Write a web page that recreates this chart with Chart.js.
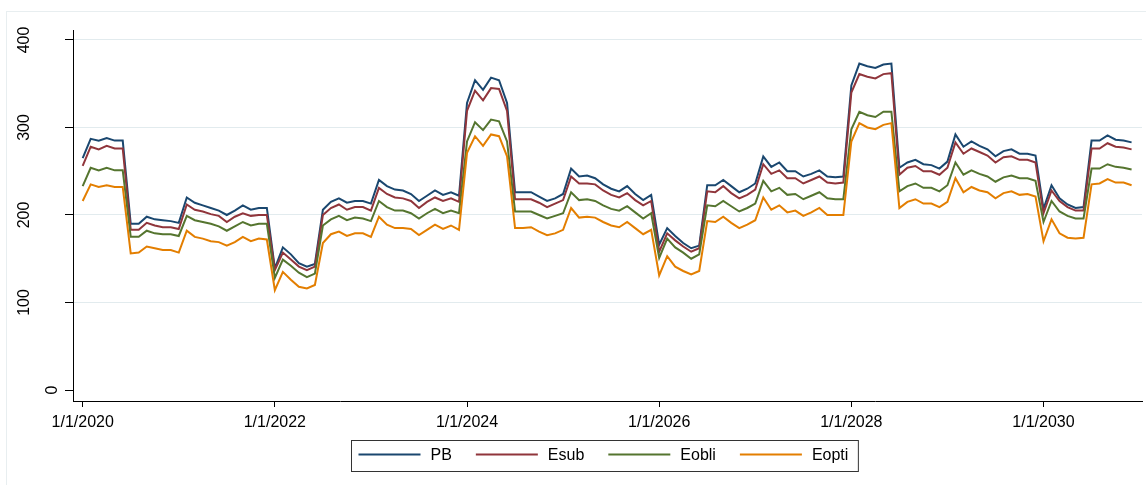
<!DOCTYPE html>
<html lang="en">

<head>
    <meta charset="UTF-8">
    <title>PB / Esub / Eobli / Eopti</title>
    <script src="https://cdn.jsdelivr.net/npm/chart.js"></script>

    <style>
        body {
            margin: 0;
            background: #fff;
        }
    </style>
</head>

<body>
    <canvas id="myChart" width="1146" height="485"></canvas>
    <script>
        // monthly values, Jan 2020 .. Dec 2030
        const pb = [
            265, 287, 285, 288, 285, 285, 190, 190, 198, 195, 194, 193,
            191, 220, 214, 211, 208, 205, 200, 205, 211, 206, 208, 208,
            139, 163, 155, 145, 141, 144, 206, 215, 219, 214, 216, 216,
            213, 240, 233, 229, 228, 224, 216, 222, 228, 223, 226, 222,
            328, 354, 343, 357, 354, 328, 226, 226, 226, 221, 216, 219,
            224, 253, 244, 245, 242, 235, 230, 227, 233, 224, 217, 223,
            166, 185, 176, 168, 162, 165, 234, 234, 240, 233, 226, 230,
            236, 267, 255, 260, 250, 250, 244, 247, 251, 244, 243, 244,
            348, 373, 370, 368, 372, 373, 254, 260, 263, 258, 257, 253,
            261, 292, 278, 284, 279, 275, 267, 273, 275, 270, 270, 268,
            207, 234, 219, 212, 208, 209, 285, 285, 291, 286, 285, 283
        ];
        const esub = [
            256, 278, 275, 279, 276, 276, 183, 183, 191, 188, 186, 186,
            184, 212, 206, 204, 201, 199, 192, 198, 202, 199, 200, 200,
            137, 157, 149, 141, 137, 141, 200, 208, 212, 206, 209, 209,
            205, 231, 224, 220, 219, 216, 208, 215, 220, 216, 219, 215,
            319, 342, 331, 345, 344, 319, 218, 218, 218, 214, 209, 213,
            217, 244, 236, 236, 235, 228, 223, 220, 225, 217, 211, 216,
            158, 179, 171, 164, 158, 162, 227, 226, 233, 225, 219, 223,
            229, 258, 247, 251, 242, 242, 236, 240, 244, 237, 236, 237,
            340, 361, 358, 356, 361, 362, 246, 254, 256, 250, 250, 246,
            254, 283, 270, 276, 272, 268, 260, 266, 267, 263, 263, 260,
            202, 228, 216, 209, 205, 205, 276, 276, 282, 278, 277, 275
        ];
        const eobli = [
            233, 254, 251, 254, 251, 251, 175, 175, 182, 179, 178, 178,
            176, 199, 194, 192, 190, 187, 182, 187, 192, 188, 190, 190,
            128, 149, 142, 134, 129, 133, 188, 195, 199, 194, 197, 196,
            193, 216, 209, 205, 205, 202, 196, 202, 207, 202, 205, 202,
            284, 306, 297, 309, 307, 284, 204, 204, 204, 200, 196, 199,
            202, 226, 217, 218, 216, 211, 207, 205, 210, 203, 196, 202,
            151, 173, 163, 157, 150, 155, 211, 210, 216, 210, 204, 208,
            213, 239, 227, 231, 223, 224, 218, 222, 226, 219, 218, 218,
            298, 318, 314, 312, 318, 318, 227, 233, 236, 231, 231, 227,
            234, 260, 246, 251, 247, 244, 238, 243, 245, 242, 242, 239,
            192, 216, 204, 199, 196, 196, 253, 253, 258, 255, 254, 252
        ];
        const eopti = [
            216, 235, 232, 234, 232, 232, 156, 157, 164, 162, 160, 160,
            157, 182, 175, 173, 170, 169, 165, 169, 175, 170, 173, 172,
            114, 135, 126, 118, 116, 120, 168, 178, 181, 176, 179, 179,
            175, 198, 189, 185, 185, 184, 177, 183, 189, 184, 188, 183,
            271, 290, 279, 292, 290, 267, 185, 185, 186, 181, 177, 179,
            183, 208, 197, 198, 197, 192, 188, 186, 192, 185, 178, 183,
            131, 153, 141, 136, 132, 136, 193, 192, 198, 191, 185, 189,
            194, 220, 206, 211, 203, 205, 199, 203, 208, 200, 200, 200,
            284, 305, 300, 298, 303, 305, 208, 215, 218, 213, 213, 209,
            215, 242, 226, 232, 228, 226, 219, 225, 227, 223, 224, 221,
            170, 195, 179, 174, 173, 174, 235, 236, 241, 237, 237, 234
        ];

        const seriesNames = ['PB', 'Esub', 'Eobli', 'Eopti'];
        const seriesColors = ['#1a476f', '#90353b', '#55752f', '#e37e00'];

        const xTickMonths = [0, 24, 48, 72, 96, 120];
        const xTickLabels = ['1/1/2020', '1/1/2022', '1/1/2024', '1/1/2026', '1/1/2028', '1/1/2030'];
        const yTicks = [0, 100, 200, 300, 400];

        const FONT = "'Liberation Sans', Arial, sans-serif";
        Chart.defaults.font.family = FONT;
        Chart.defaults.font.size = 16;
        Chart.defaults.color = '#000';

        const toPoints = arr => arr.map((v, i) => ({ x: i, y: v }));

        // rotated y labels, the legend box and the faint outer frame
        const extras = {
            id: 'extras',
            beforeDraw(chart) {
                const c = chart.ctx;
                c.save();
                c.strokeStyle = '#e8eef0';
                c.lineWidth = 1;
                c.strokeRect(6.5, 11.5, 1400, 700);
                c.restore();
            },
            afterDraw(chart) {
                const c = chart.ctx;
                const area = chart.chartArea;
                const yScale = chart.scales.y;

                c.save();
                c.font = '16px ' + FONT;
                c.fillStyle = '#000';
                c.textAlign = 'center';
                c.textBaseline = 'middle';
                yTicks.forEach(v => {
                    const label = String(v);
                    const w = c.measureText(label).width;
                    // longer labels sit further out from the axis
                    const px = area.left - 6 - w * 1.57;
                    c.save();
                    c.translate(px, yScale.getPixelForValue(v));
                    c.rotate(-Math.PI / 2);
                    c.fillText(label, 0, 0);
                    c.restore();
                });

                // legend
                const sets = chart.data.datasets;
                const lineLen = 62, gap = 10, spacing = 24, padL = 7, padR = 10;
                const widths = sets.map(d => c.measureText(d.label).width);
                let total = padL + padR;
                widths.forEach((w, i) => total += lineLen + gap + w + (i < sets.length - 1 ? spacing : 0));
                const left = Math.round(604 - total / 2) + 0.5;
                const top = 440.5, h = 31;
                c.strokeStyle = '#333';
                c.lineWidth = 1;
                c.strokeRect(left, top, total, h);

                let x = left + padL;
                const my = top + 14;
                c.textAlign = 'left';
                sets.forEach((d, i) => {
                    c.strokeStyle = d.borderColor;
                    c.lineWidth = 2;
                    c.beginPath();
                    c.moveTo(x, my);
                    c.lineTo(x + lineLen, my);
                    c.stroke();
                    x += lineLen + gap;
                    c.fillText(d.label, x, my + 1);
                    x += widths[i] + spacing;
                });
                c.restore();
            }
        };

        const ctx = document.getElementById('myChart').getContext('2d');
        const myChart = new Chart(ctx, {
            type: 'line',
            data: {
                datasets: [pb, esub, eobli, eopti].map((arr, i) => ({
                    label: seriesNames[i],
                    data: toPoints(arr),
                    borderColor: seriesColors[i],
                    backgroundColor: seriesColors[i],
                    borderWidth: 2,
                    pointRadius: 0,
                    tension: 0,
                    order: 4 - i
                }))
            },
            options: {
                responsive: false,
                animation: false,
                layout: {
                    padding: { top: 30, right: 4, left: 0, bottom: 0 }
                },
                plugins: {
                    legend: { display: false },
                    tooltip: { enabled: false }
                },
                scales: {
                    x: {
                        type: 'linear',
                        min: -1.21,
                        max: 132.3,
                        afterBuildTicks: s => { s.ticks = xTickMonths.map(v => ({ value: v })); },
                        afterFit: s => { s.height = 84; },
                        ticks: {
                            autoSkip: false,
                            maxRotation: 0,
                            padding: 6,
                            callback: (v, idx) => xTickLabels[idx]
                        },
                        grid: {
                            drawOnChartArea: false,
                            tickLength: 6,
                            tickColor: '#000'
                        },
                        border: { color: '#000', width: 1 }
                    },
                    y: {
                        min: -12.57,
                        max: 411.4,
                        afterBuildTicks: s => { s.ticks = yTicks.map(v => ({ value: v })); },
                        afterFit: s => { s.width = 73; },
                        ticks: { display: false },
                        grid: {
                            color: c => (c.tick && c.tick.value === 0) ? 'rgba(0,0,0,0)' : '#e2ebee',
                            tickLength: 8,
                            tickColor: '#000'
                        },
                        border: { color: '#000', width: 1 }
                    }
                }
            },
            plugins: [extras]
        });
    </script>
</body>

</html>
